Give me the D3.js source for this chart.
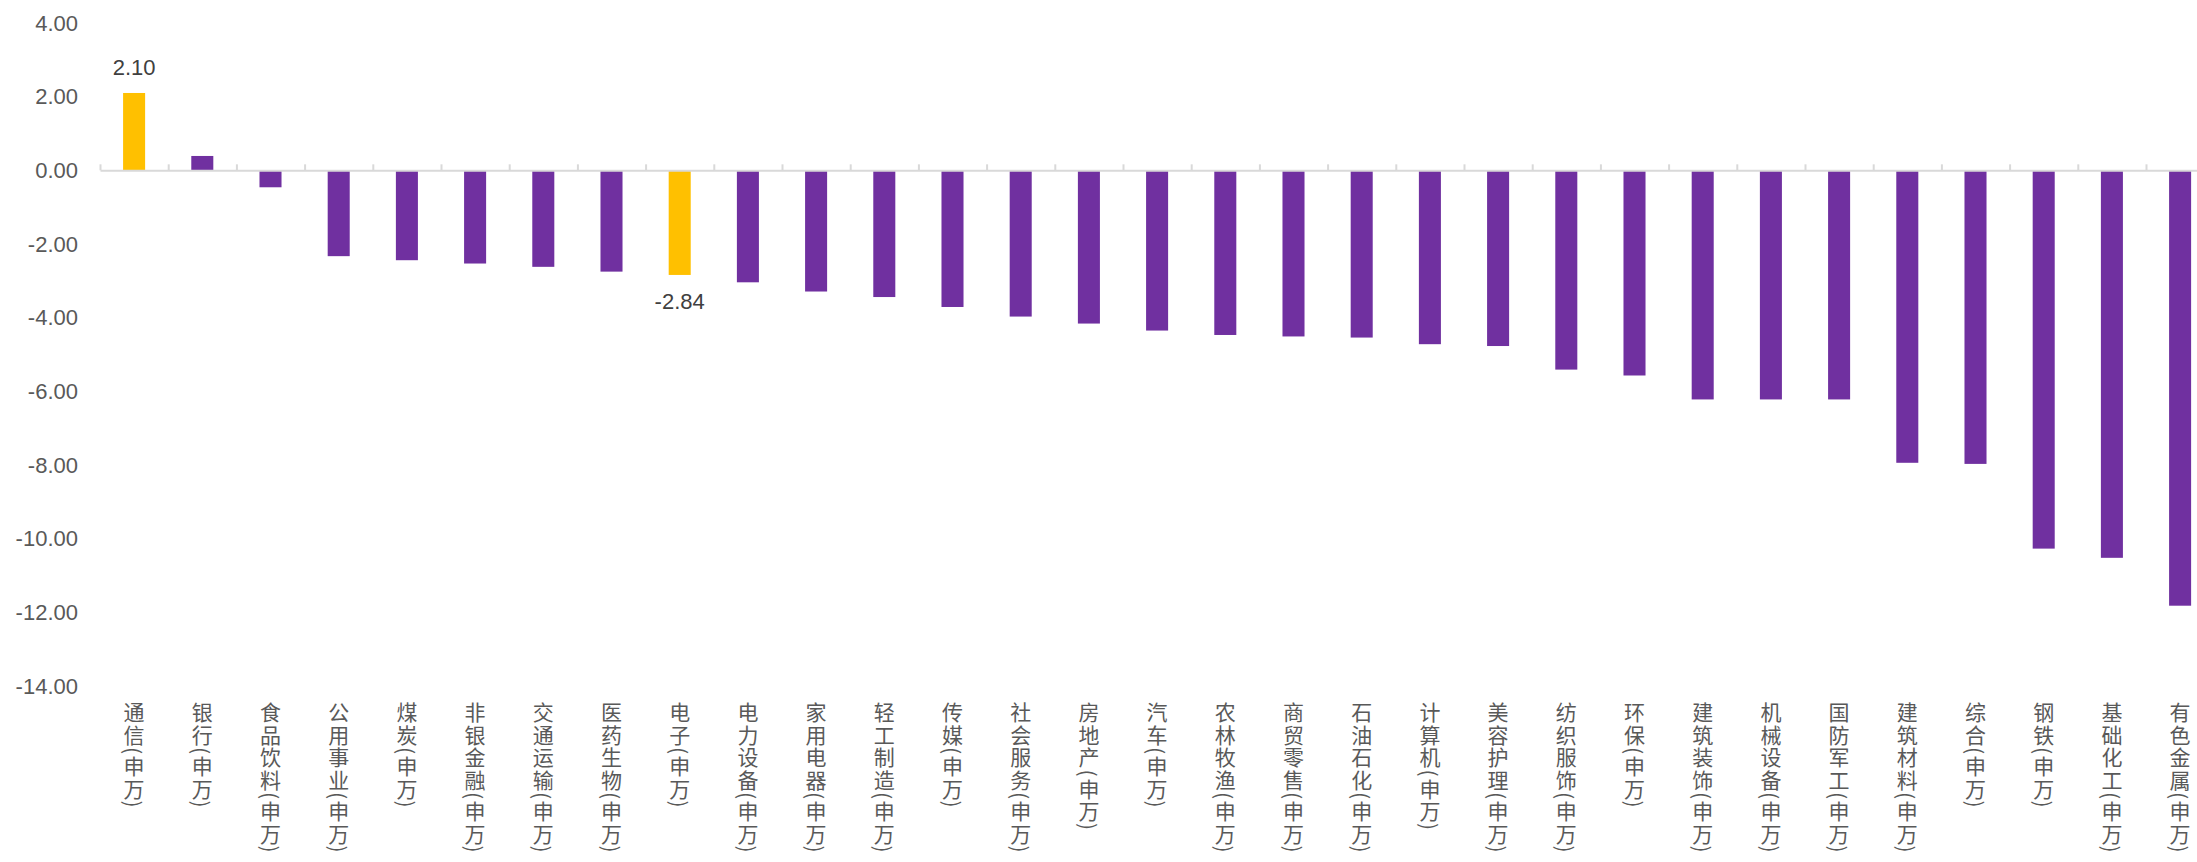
<!DOCTYPE html>
<html>
<head>
<meta charset="utf-8">
<script src="https://cdn.jsdelivr.net/npm/d3@7"></script>
<style>
	body { margin: 0; background: #fff; }
	svg { display: block; }
	.ytick text { font-family: "Liberation Sans", Arial, sans-serif; font-size: 22px; fill: #595959; }
	.xlab { font-family: "Noto Sans CJK SC", sans-serif; font-size: 21px; fill: #595959; writing-mode: vertical-rl; letter-spacing: 1.5px; }
	.vlab { font-family: "Liberation Sans", Arial, sans-serif; font-size: 22px; fill: #404040; }
</style>
</head>
<body>
<svg id="chart"></svg>
<script>
// categories (申万 level-1 industries)
var categories = ["通信", "银行", "食品饮料", "公用事业", "煤炭", "非银金融", "交通运输", "医药生物",
	"电子", "电力设备", "家用电器", "轻工制造", "传媒", "社会服务", "房地产", "汽车", "农林牧渔",
	"商贸零售", "石油石化", "计算机", "美容护理", "纺织服饰", "环保", "建筑装饰", "机械设备",
	"国防军工", "建筑材料", "综合", "钢铁", "基础化工", "有色金属"];

// change values
var values = [2.10, 0.39, -0.46, -2.33, -2.44, -2.53, -2.62, -2.75,
	-2.84, -3.04, -3.29, -3.44, -3.71, -3.97, -4.16, -4.35, -4.47,
	-4.51, -4.54, -4.72, -4.77, -5.41, -5.57, -6.22, -6.22,
	-6.22, -7.94, -7.97, -10.27, -10.52, -11.82];

// highlighted bars (with value labels)
var highlighted = ["通信", "电子"];

// y axis ticks
var yTicks = [4, 2, 0, -2, -4, -6, -8, -10, -12, -14];
var yTickLabels = ["4.00", "2.00", "0.00", "-2.00", "-4.00", "-6.00", "-8.00", "-10.00", "-12.00", "-14.00"];

var data = categories.map(function(c, i) { return { name: c, value: values[i] }; });

var W = 2197, H = 862;
var left = 100, step = 68.2;
var right = left + step * categories.length;

var svg = d3.select("#chart").attr("width", W).attr("height", H);

// scales
var xscale = d3.scaleBand().domain(categories).range([left, right])
	.paddingInner(0.677).paddingOuter(0.677 / 2);
var yscale = d3.scaleLinear().domain([-14, 4]).range([686, 23]);

// y axis labels only
var yaxis = d3.axisLeft(yscale).tickValues(yTicks).tickSize(0).tickPadding(22)
	.tickFormat(function(d, i) { return yTickLabels[i]; });
svg.append("g")
	.attr("class", "ytick")
	.attr("transform", "translate(" + left + ",0)")
	.call(yaxis)
	.call(function(g) { g.select(".domain").remove(); });

// bars
svg.append("g").selectAll("rect")
	.data(data)
	.enter().append("rect")
	.attr("x", function(d) { return xscale(d.name); })
	.attr("width", xscale.bandwidth())
	.attr("y", function(d) { return yscale(Math.max(0, d.value)); })
	.attr("height", function(d) { return Math.abs(yscale(d.value) - yscale(0)); })
	.attr("fill", function(d) { return highlighted.indexOf(d.name) >= 0 ? "#FFC000" : "#7030A0"; });

// zero axis with category ticks pointing up
var edges = d3.scaleLinear().domain([0, categories.length]).range([left, right]);
svg.append("g")
	.attr("transform", "translate(0," + yscale(0) + ")")
	.call(d3.axisTop(edges).tickValues(d3.range(categories.length + 1)).tickSize(6).tickSizeOuter(0).tickFormat(""))
	.call(function(g) {
		g.select(".domain").attr("stroke", "#d9d9d9").attr("stroke-width", 2);
		g.selectAll(".tick line").attr("stroke", "#d9d9d9").attr("stroke-width", 2);
	});

// value labels on highlighted bars
svg.append("g").selectAll("text")
	.data(data.filter(function(d) { return highlighted.indexOf(d.name) >= 0; }))
	.enter().append("text")
	.attr("class", "vlab")
	.attr("text-anchor", "middle")
	.attr("x", function(d) { return xscale(d.name) + xscale.bandwidth() / 2; })
	.attr("y", function(d) { return d.value >= 0 ? yscale(d.value) - 18 : yscale(d.value) + 34; })
	.text(function(d) { return d.value.toFixed(2); });

// vertical category labels
svg.append("g").selectAll("text")
	.data(categories)
	.enter().append("text")
	.attr("class", "xlab")
	.attr("x", function(d) { return xscale(d) + xscale.bandwidth() / 2; })
	.attr("y", 702)
	.text(function(d) { return d + "(申万)"; });
</script>
</body>
</html>
